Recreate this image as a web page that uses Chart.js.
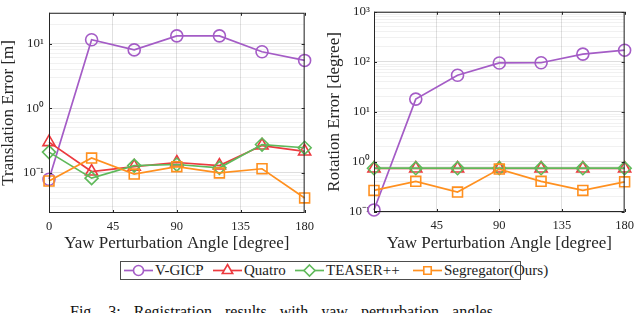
<!DOCTYPE html>
<html><head><meta charset="utf-8">
<script src="https://cdn.jsdelivr.net/npm/chart.js@4.4.1/dist/chart.umd.min.js"></script>
<style>
html,body{margin:0;padding:0;background:#fff;width:640px;height:313px;overflow:hidden;position:relative;font-family:"Liberation Serif",serif;}
.wrap{position:absolute;top:0;width:320px;height:256px;}
#legend{position:absolute;left:120px;top:261px;width:399px;height:17px;border:1px solid #4d4d4d;background:#fff;}
.li{position:absolute;top:0;height:17px;}
.lt{position:absolute;top:-1px;font-size:15px;line-height:18px;color:#222;white-space:nowrap;}
#caption{position:absolute;left:70px;top:303px;font-size:16px;color:#111;white-space:nowrap;word-spacing:9px;}
</style></head>
<body>
<div class="wrap" style="left:0"><canvas id="c1" width="320" height="256"></canvas></div>
<div class="wrap" style="left:320px"><canvas id="c2" width="320" height="256"></canvas></div>
<div id="legend"></div>
<div id="caption">Fig. 3: Registration results with yaw perturbation angles.</div>
<script>
// ---- data ----
const angles = [0, 30, 60, 90, 120, 150, 180];
const seriesNames = ['V-GICP', 'Quatro', 'TEASER++', 'Segregator(Ours)'];
const transVGICP = [0.08, 11.5, 8.0, 13.2, 13.2, 7.5, 5.5];
const transQuatro = [0.30, 0.105, 0.125, 0.145, 0.13, 0.265, 0.215];
const transTeaser = [0.21, 0.083, 0.13, 0.135, 0.12, 0.275, 0.245];
const transSeg = [0.075, 0.17, 0.096, 0.125, 0.10, 0.116, 0.041];
const rotVGICP = [0.11, 18, 54, 95, 96, 143, 171];
const rotQuatro = [0.74, 0.74, 0.74, 0.74, 0.74, 0.74, 0.74];
const rotTeaser = [0.75, 0.75, 0.75, 0.75, 0.75, 0.75, 0.75];
const rotSeg = [0.27, 0.41, 0.25, 0.72, 0.41, 0.27, 0.40];
const xTicks = [0, 45, 90, 135, 180];
const xTickLabelsLeft = ['0', '45', '90', '135', '180'];
const xTickLabelsRight = ['', '45', '90', '135', '180'];
const yMajorTrans = [0.1, 1, 10];
const yMajorTransLabels = ['10⁻¹', '10⁰', '10¹'];
const yMajorRot = [0.1, 1, 10, 100, 1000];
const yMajorRotLabels = ['10⁻¹', '10⁰', '10¹', '10²', '10³'];
const xTitle = 'Yaw Perturbation Angle [degree]';
const yTitleTrans = 'Translation Error [m]';
const yTitleRot = 'Rotation Error [degree]';

// ---- styles ----
const colors = ['#a45cc6', '#ec3a3f', '#5fb95a', '#ff901f'];
const markers = ['circle', 'triangle', 'rectRot', 'rect'];
const radii = [6, 7, 6.5, 7];
const FONT = '"Liberation Serif", "Times New Roman", serif';
Chart.defaults.font.family = FONT;
Chart.defaults.color = '#262626';

function minorTicks(min, max) {
  const out = [];
  for (let e = -3; e <= 4; e++) {
    for (let m = 1; m <= 9; m++) {
      const v = +(m * Math.pow(10, e)).toPrecision(3);
      if (v >= min * 0.9999 && v <= max * 1.0001) out.push(v);
    }
  }
  return out;
}

const boxPlugin = {
  id: 'box',
  afterDatasetsDraw(chart) {
    const {ctx, chartArea: a} = chart;
    ctx.save();
    ctx.strokeStyle = '#262626';
    ctx.lineWidth = 1;
    ctx.strokeRect(a.left + 0.5, a.top + 0.5, a.right - a.left - 1, a.bottom - a.top - 1);
    const xs = chart.scales.x, ys = chart.scales.y;
    ctx.beginPath();
    xTicks.forEach(v => {
      const px = Math.round(xs.getPixelForValue(v)) + 0.5;
      ctx.moveTo(px, a.bottom); ctx.lineTo(px, a.bottom - 3);
      ctx.moveTo(px, a.top); ctx.lineTo(px, a.top + 3);
    });
    chart.options.plugins.box.majors.forEach(v => {
      const py = Math.round(ys.getPixelForValue(v)) + 0.5;
      ctx.moveTo(a.left, py); ctx.lineTo(a.left + 3, py);
      ctx.moveTo(a.right, py); ctx.lineTo(a.right - 3, py);
    });
    ctx.stroke();
    ctx.restore();
  }
};

function makeChart(id, data, cfg) {
  const datasets = data.map((vals, i) => ({
    label: seriesNames[i],
    data: angles.map((a, j) => ({x: a, y: vals[j]})),
    borderColor: colors[i],
    backgroundColor: 'rgba(0,0,0,0)',
    pointBackgroundColor: 'rgba(0,0,0,0)',
    pointBorderColor: colors[i],
    pointStyle: markers[i],
    pointRadius: radii[i],
    pointBorderWidth: 1.6,
    borderWidth: 1.7,
    order: 4 - i,
    clip: false
  }));
  const majors = cfg.majors;
  return new Chart(document.getElementById(id), {
    type: 'line',
    data: {datasets},
    plugins: [boxPlugin],
    options: {
      responsive: false,
      animation: false,
      devicePixelRatio: 1,
      layout: {padding: cfg.padding},
      plugins: {legend: {display: false}, tooltip: {enabled: false}, box: {majors}},
      scales: {
        x: {
          type: 'linear', min: 0, max: 180,
          afterBuildTicks: s => { s.ticks = xTicks.map(v => ({value: v})); },
          afterFit: s => { s.height = cfg.xHeight; },
          ticks: {
            autoSkip: false, maxRotation: 0, padding: 6,
            font: {size: 12.5, family: FONT}, color: '#262626',
            callback: (v, i) => cfg.xLabels[i]
          },
          grid: {color: 'rgba(0,0,0,0.12)', lineWidth: 1, drawTicks: false},
          border: {display: false},
          title: {display: true, text: xTitle, font: {size: 17, family: FONT, lineHeight: 1}, color: '#262626', padding: {top: 0, bottom: 4}}
        },
        y: {
          type: 'logarithmic', min: cfg.min, max: cfg.max,
          afterBuildTicks: s => { s.ticks = minorTicks(cfg.min, cfg.max).map(v => ({value: v})); },
          afterFit: s => { s.width = cfg.yWidth; },
          ticks: {
            autoSkip: false, padding: cfg.yTickPad,
            font: {size: 13, family: FONT}, color: '#262626',
            callback: (v) => {
              const k = majors.findIndex(m => Math.abs(m - v) / m < 1e-6);
              return k >= 0 ? cfg.yLabels[k] : '';
            }
          },
          grid: {
            drawTicks: false, lineWidth: 1,
            color: c => {
              const v = c.tick ? c.tick.value : 0;
              const isMajor = majors.some(m => Math.abs(m - v) / m < 1e-6);
              return isMajor ? 'rgba(0,0,0,0.13)' : 'rgba(0,0,0,0.055)';
            }
          },
          border: {display: false},
          title: {display: true, text: cfg.yTitle, font: {size: 17, family: FONT, lineHeight: 1}, color: '#262626', padding: {top: cfg.yTitlePad, bottom: 0}}
        }
      }
    }
  });
}

makeChart('c1', [transVGICP, transQuatro, transTeaser, transSeg], {
  min: 0.024, max: 30, majors: yMajorTrans, yLabels: yMajorTransLabels,
  xLabels: xTickLabelsLeft, yTitle: yTitleTrans,
  padding: {left: 0, top: 5, right: 14, bottom: 0},
  yWidth: 49, xHeight: 43, yTickPad: 5, yTitlePad: 0
});
makeChart('c2', [rotVGICP, rotQuatro, rotTeaser, rotSeg], {
  min: 0.1, max: 1000, majors: yMajorRot, yLabels: yMajorRotLabels,
  xLabels: xTickLabelsRight, yTitle: yTitleRot,
  padding: {left: 0, top: 7, right: 9, bottom: 0},
  yWidth: 54, xHeight: 44, yTickPad: 4, yTitlePad: 6
});

// ---- legend ----
const legendSym = [3, 92, 174, 292];
const legendTxt = [34, 123, 205, 323];
const legend = document.getElementById('legend');
seriesNames.forEach((name, i) => {
  const cv = document.createElement('canvas');
  cv.width = 29; cv.height = 17; cv.className = 'li';
  cv.style.left = legendSym[i] + 'px';
  const g = cv.getContext('2d');
  g.strokeStyle = colors[i]; g.lineWidth = 1.7;
  g.beginPath(); g.moveTo(0, 8.5); g.lineTo(29, 8.5); g.stroke();
  g.fillStyle = '#fff';
  const r = radii[i] - 1, cx = 14.5, cy = 8.5;
  g.lineWidth = 1.6;
  g.beginPath();
  if (markers[i] === 'circle') g.arc(cx, cy, r, 0, Math.PI * 2);
  else if (markers[i] === 'triangle') { g.moveTo(cx, cy - r); g.lineTo(cx + r * 0.866, cy + r * 0.5); g.lineTo(cx - r * 0.866, cy + r * 0.5); g.closePath(); }
  else if (markers[i] === 'rectRot') { g.moveTo(cx, cy - r); g.lineTo(cx + r, cy); g.lineTo(cx, cy + r); g.lineTo(cx - r, cy); g.closePath(); }
  else { const s = r * 0.62; g.rect(cx - s, cy - s, 2 * s, 2 * s); }
  g.fill(); g.stroke();
  legend.appendChild(cv);
  const t = document.createElement('div');
  t.className = 'lt'; t.textContent = name; t.style.left = legendTxt[i] + 'px';
  legend.appendChild(t);
});
</script>
</body></html>
